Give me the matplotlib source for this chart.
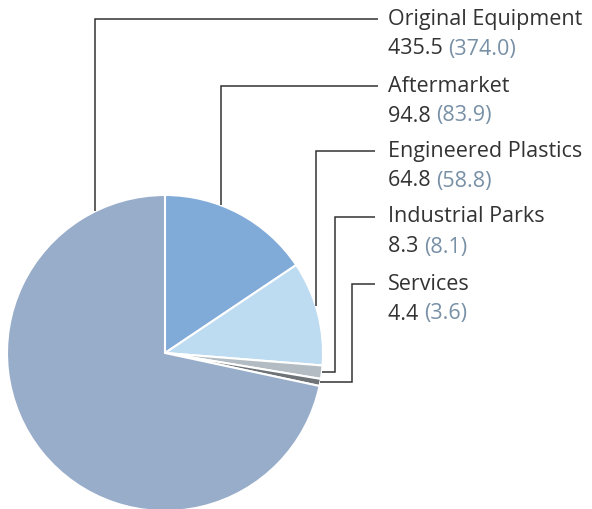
import numpy as np
import matplotlib.pyplot as plt

segments = ["Original Equipment", "Aftermarket", "Engineered Plastics", "Industrial Parks", "Services"]
values = [435.5, 94.8, 64.8, 8.3, 4.4]
prior = [374.0, 83.9, 58.8, 8.1, 3.6]
colors = ["#98adc9", "#80aad8", "#bddbf1", "#b3bcc2", "#6d7377"]

# pie drawing order: clockwise from 12 o'clock, OE last
order = [1, 2, 3, 4, 0]

W, H = 592, 510
fig = plt.figure(figsize=(W / 100, H / 100), dpi=100)
ax = fig.add_axes([0, 0, 1, 1])

cx, cy, r = 165, H - 354, 158
wedges, _ = ax.pie([values[i] for i in order], colors=[colors[i] for i in order],
                   startangle=90, counterclock=False, center=(cx, cy), radius=r,
                   wedgeprops=dict(edgecolor="white", linewidth=1.5))

ax.set_xlim(0, W)
ax.set_ylim(0, H)
ax.set_aspect("equal")
ax.axis("off")

# angles of each wedge middle, in degrees
mids = {}
for w, i in zip(wedges, order):
    mids[i] = (w.theta1 + w.theta2) / 2

text_x = 388
row_y = [19, 86, 151, 217, 284]
line_end = [378, 378, 375, 375, 375]
lead_x = [95, 221, 316, 335, 352]
lc = "#333333"
fs = 15.5
font = dict(family="Open Sans", fontsize=fs, va="center", ha="left")

for i, name in enumerate(segments):
    ty = H - row_y[i]
    if i < 3:
        dx = lead_x[i] - cx
        ey = cy + np.sqrt(r ** 2 - dx ** 2)
        xs = [lead_x[i], lead_x[i], line_end[i]]
        ys = [ey, ty - 1, ty - 1]
    else:
        a = np.radians(mids[i])
        ex = cx + r * np.cos(a)
        ey = cy + r * np.sin(a)
        xs = [ex, lead_x[i], lead_x[i], line_end[i]]
        ys = [ey, ey, ty - 1, ty - 1]
    ax.plot(xs, ys, color=lc, lw=1.1, solid_joinstyle="miter", solid_capstyle="butt")

    ax.text(text_x, ty, name, color="#333333", **font)
    v = ax.text(text_x, ty - 30, f"{values[i]:.1f} ", color="#333333", **font)
    ax.annotate(f"({prior[i]:.1f})", xycoords=v, xy=(1, 0.5), color="#7890a6", **font)

fig.savefig("out.png", dpi=100)
